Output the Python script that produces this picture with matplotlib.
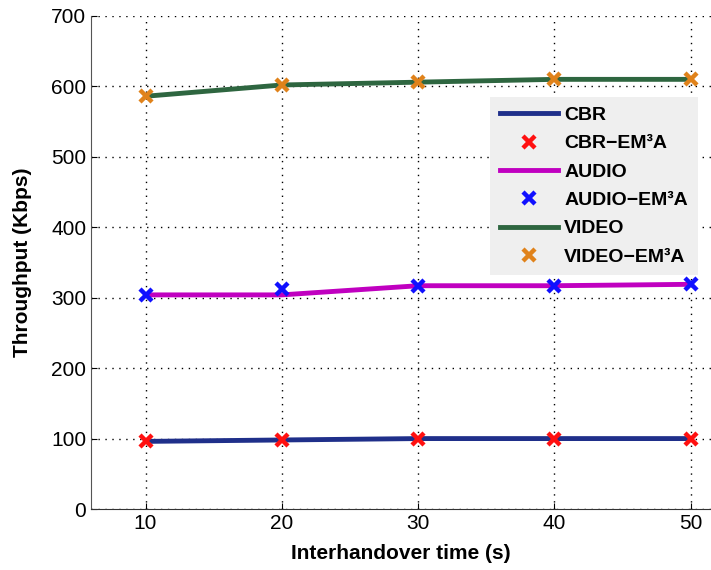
import matplotlib
matplotlib.use("Agg")
import matplotlib.pyplot as plt

plt.rcParams['font.family'] = ['Liberation Sans', 'DejaVu Sans']

x = [10, 20, 30, 40, 50]
cbr = [96, 98, 100, 100, 100]
cbr_em = [96, 98, 100, 100, 100]
audio = [304, 304, 317, 317, 319]
audio_em = [304, 313, 317, 317, 319]
video = [586, 602, 606, 610, 610]
video_em = [586, 602, 606, 610, 611]

fig = plt.figure(figsize=(7.11, 5.70), dpi=100)
ax = fig.add_axes([0.128, 0.107, 0.872, 0.865])

lw = 3.5
ms = 8
mew = 3.2
ax.plot(x, cbr, color='#1f2f8a', lw=lw, label='CBR')
ax.plot(x, cbr_em, ls='none', marker='x', color='#ff1010', ms=ms, mew=mew, label='CBR\u2212EM\u00b3A')
ax.plot(x, audio, color='#c000c0', lw=lw, label='AUDIO')
ax.plot(x, audio_em, ls='none', marker='x', color='#1010ff', ms=ms, mew=mew, label='AUDIO\u2212EM\u00b3A')
ax.plot(x, video, color='#2e6640', lw=lw, label='VIDEO')
ax.plot(x, video_em, ls='none', marker='x', color='#e0821a', ms=ms, mew=mew, label='VIDEO\u2212EM\u00b3A')

ax.set_xlim(6, 51.5)
ax.set_ylim(0, 700)
ax.set_xticks(x)
ax.set_yticks(range(0, 701, 100))
ax.grid(True, color='black', ls=(0, (1, 4)), lw=1)
for s in ['top', 'right']:
    ax.spines[s].set_visible(False)
ax.spines['left'].set_color('#555555')
ax.spines['bottom'].set_color('#333333')
ax.tick_params(labelsize=15, direction='in', length=4)
ax.set_xlabel('Interhandover time (s)', fontsize=15, fontweight='bold', labelpad=8)
ax.set_ylabel('Throughput (Kbps)', fontsize=15, fontweight='bold', labelpad=14)

leg = ax.legend(loc='upper left', bbox_to_anchor=(0.644, 0.836), frameon=True,
                prop={'weight': 'bold', 'size': 14}, handlelength=3.0,
                labelspacing=0.55, borderpad=0.5, fancybox=False, handletextpad=0.3,
                borderaxespad=0)
leg.get_frame().set_facecolor('#efefef')
leg.get_frame().set_edgecolor('none')
leg.get_frame().set_alpha(1)

fig.savefig('out.png', dpi=100)
